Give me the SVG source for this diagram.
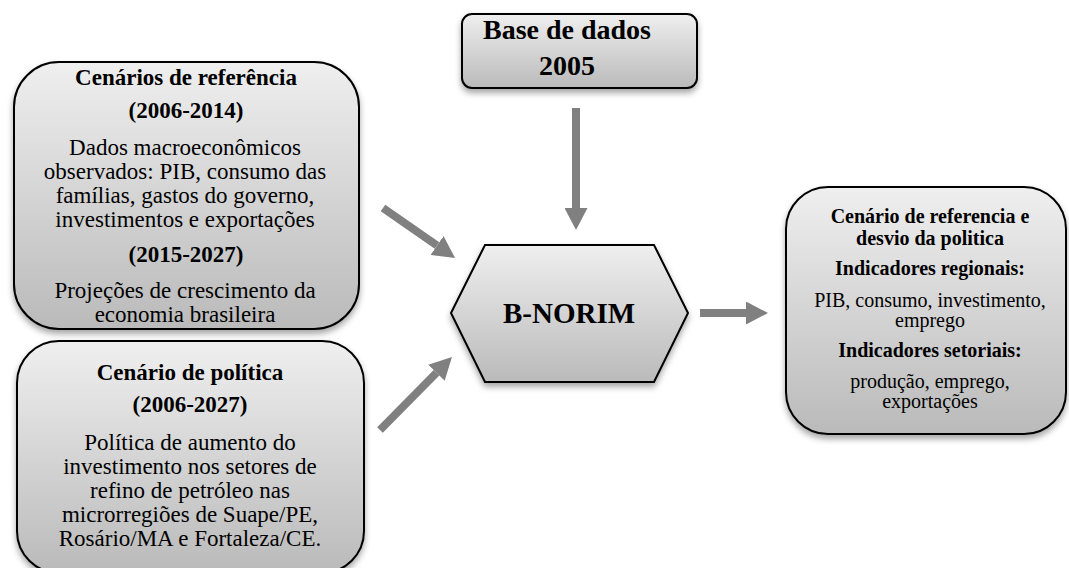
<svg xmlns="http://www.w3.org/2000/svg" width="1069" height="568" viewBox="0 0 1069 568">
<defs>
<linearGradient id="g" x1="0" y1="0" x2="0" y2="1">
<stop offset="0" stop-color="#efefef"/>
<stop offset="1" stop-color="#bababa"/>
</linearGradient>
<filter id="sh" x="-10%" y="-10%" width="120%" height="125%">
<feDropShadow dx="0" dy="4" stdDeviation="3" flood-color="#000" flood-opacity="0.35"/>
</filter>
<marker id="ah" markerUnits="userSpaceOnUse" viewBox="0 0 22 23" markerWidth="22" markerHeight="23" refX="0" refY="11.5" orient="auto">
<path d="M0,0 L22,11.5 L0,23 Z" fill="#808080"/>
</marker>
<style>
.box{fill:url(#g);stroke:#000;stroke-width:2;filter:url(#sh)}
text{font-family:"Liberation Serif","Times New Roman",serif;fill:#000;text-anchor:middle}
.b{font-weight:bold}
.conn line{stroke:#808080;stroke-width:8;marker-end:url(#ah)}
</style>
</defs>
<rect width="1069" height="568" fill="#fff"/>

<g id="ref">
<rect class="box" x="14" y="62" width="345" height="267" rx="45" ry="45"/>
<text x="186" y="85" class="b" font-size="23">Cenários de referência</text>
<text x="186" y="118" class="b" font-size="23">(2006-2014)</text>
<text x="185" y="155" font-size="23">Dados macroeconômicos</text>
<text x="185" y="179" font-size="23">observados: PIB, consumo das</text>
<text x="185" y="203" font-size="23">famílias, gastos do governo,</text>
<text x="185" y="227" font-size="23">investimentos e exportações</text>
<text x="186" y="262" class="b" font-size="23">(2015-2027)</text>
<text x="185" y="298" font-size="23">Projeções de crescimento da</text>
<text x="185" y="322" font-size="23">economia brasileira</text>
</g>

<g id="pol">
<rect class="box" x="17" y="341" width="347" height="232" rx="42" ry="42"/>
<text x="190" y="380" class="b" font-size="23">Cenário de política</text>
<text x="190" y="412" class="b" font-size="23">(2006-2027)</text>
<text x="190" y="450" font-size="23">Política de aumento do</text>
<text x="190" y="474" font-size="23">investimento nos setores de</text>
<text x="190" y="498" font-size="23">refino de petróleo nas</text>
<text x="190" y="522" font-size="23">microrregiões de Suape/PE,</text>
<text x="190" y="546" font-size="23">Rosário/MA e Fortaleza/CE.</text>
</g>

<g id="base">
<rect class="box" x="462" y="14" width="235" height="74" rx="10" ry="10"/>
<text x="567" y="39" class="b" font-size="28">Base de dados</text>
<text x="567" y="75" class="b" font-size="28">2005</text>
</g>

<g id="bnorim">
<polygon class="box" points="485,245 654,245 688,313 654,382 485,382 451,313"/>
<text x="569" y="323" class="b" font-size="29">B-NORIM</text>
</g>

<g id="out">
<rect class="box" x="786" y="187" width="280" height="247" rx="42" ry="42"/>
<text x="930" y="223" class="b" font-size="20">Cenário de referencia e</text>
<text x="930" y="245" class="b" font-size="20">desvio da politica</text>
<text x="930" y="275" class="b" font-size="20">Indicadores regionais:</text>
<text x="930" y="307" font-size="20">PIB, consumo, investimento,</text>
<text x="930" y="327" font-size="20">emprego</text>
<text x="930" y="357" class="b" font-size="20">Indicadores setoriais:</text>
<text x="930" y="388" font-size="20">produção, emprego,</text>
<text x="930" y="408" font-size="20">exportações</text>
</g>

<g id="connectors" class="conn">
<line x1="576" y1="108" x2="576" y2="208"/>
<line x1="383" y1="208" x2="437" y2="245.5"/>
<line x1="380" y1="430" x2="436.5" y2="372.7"/>
<line x1="700" y1="313" x2="746" y2="313"/>
</g>
</svg>
